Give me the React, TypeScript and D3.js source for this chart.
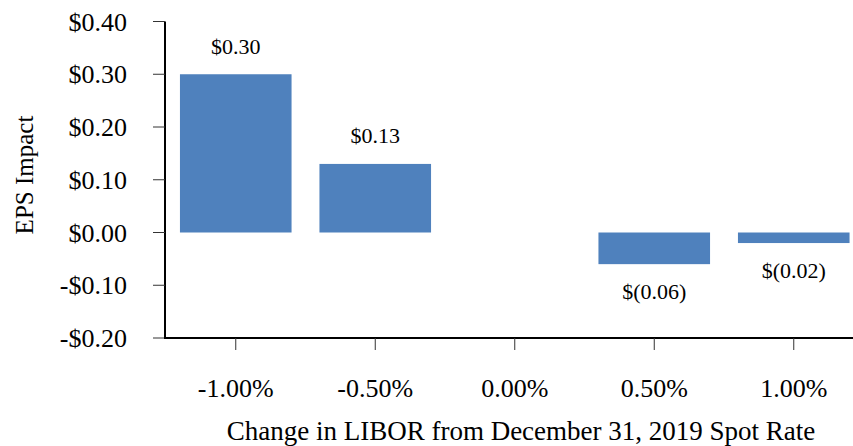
import React from 'react';
import * as d3 from 'd3';

const categories = ['-1.00%', '-0.50%', '0.00%', '0.50%', '1.00%'];
const values = [0.3, 0.13, 0.0, -0.06, -0.02];
const yTicks = [-0.2, -0.1, 0.0, 0.1, 0.2, 0.3, 0.4];

const width = 853;
const height = 446;
const font = '"Liberation Serif", "Times New Roman", serif';

// money formatting like the source: $0.30 / $(0.06) for labels, -$0.10 on the axis
const fmtAxis = (v: number) => (v < 0 ? '-$' : '$') + Math.abs(v).toFixed(2);
const fmtLabel = (v: number) => (v < 0 ? '$(' + Math.abs(v).toFixed(2) + ')' : '$' + v.toFixed(2));

export default function App() {
  const x = d3.scaleBand<string>()
    .domain(categories)
    .range([166, 863.5])
    .paddingInner(0.2)
    .paddingOuter(0.1);

  const y = d3.scaleLinear()
    .domain([-0.2, 0.4])
    .range([338, 21.5]);

  const axisX = 165;
  const axisY = y(-0.2);

  return (
    <svg width={width} height={height} style={{ position: 'absolute', left: 0, top: 0, background: '#fff' }}>
      {/* bars */}
      {values.map((v, i) => {
        if (v === 0) return null;
        const x0 = x(categories[i])!;
        const top = y(Math.max(0, v));
        const bot = y(Math.min(0, v));
        return (
          <g key={i}>
            <rect x={x0} y={top} width={x.bandwidth()} height={bot - top} fill="#4f81bd" />
            <text
              x={x0 + x.bandwidth() / 2}
              y={v > 0 ? top - 20.5 : bot + 34.5}
              textAnchor="middle"
              fontFamily={font}
              fontSize={22}
              fill="#000"
            >
              {fmtLabel(v)}
            </text>
          </g>
        );
      })}

      {/* y axis */}
      <line x1={axisX} x2={axisX} y1={y(0.4)} y2={axisY} stroke="#000" strokeWidth={2} />
      {yTicks.map((t) => (
        <g key={t}>
          <line x1={153} x2={axisX} y1={y(t)} y2={y(t)} stroke="#333" strokeWidth={1} />
          <text x={127} y={y(t)} dy="0.35em" textAnchor="end" fontFamily={font} fontSize={26} fill="#000">
            {fmtAxis(t)}
          </text>
        </g>
      ))}

      {/* x axis */}
      <line x1={axisX - 1} x2={width} y1={axisY} y2={axisY} stroke="#000" strokeWidth={2} />
      {categories.map((c) => {
        const cx = x(c)! + x.bandwidth() / 2;
        return (
          <g key={c}>
            <line x1={cx} x2={cx} y1={axisY} y2={axisY + 12} stroke="#333" strokeWidth={1} />
            <text x={cx} y={397} textAnchor="middle" fontFamily={font} fontSize={26} fill="#000">
              {c}
            </text>
          </g>
        );
      })}

      {/* axis titles */}
      <text x={521} y={440} textAnchor="middle" fontFamily={font} fontSize={27} fill="#000">
        Change in LIBOR from December 31, 2019 Spot Rate
      </text>
      <text transform="translate(33,175) rotate(-90)" textAnchor="middle" fontFamily={font} fontSize={25} fill="#000">
        EPS Impact
      </text>
    </svg>
  );
}
